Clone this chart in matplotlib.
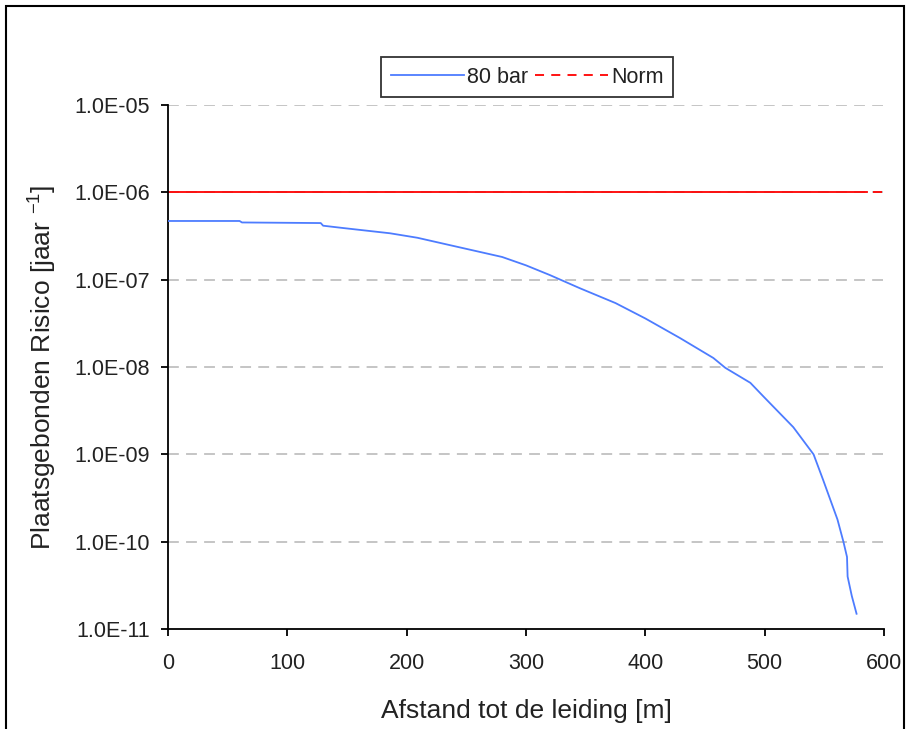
import numpy as np
import matplotlib.pyplot as plt
from matplotlib.lines import Line2D
from matplotlib.patches import Rectangle
from matplotlib.ticker import FixedLocator, FuncFormatter

plt.rcParams['font.family'] = ['Liberation Sans', 'DejaVu Sans']
plt.rcParams['mathtext.fontset'] = 'custom'
plt.rcParams['mathtext.rm'] = 'Liberation Sans'

# 80 bar curve
afstand = [0, 60, 62, 128, 130, 147, 186, 209, 236, 264, 280, 300, 320, 345,
           375, 400, 429, 457, 467, 488, 499, 524, 541, 549, 561, 566, 569,
           569.5, 573, 577]
risico = [4.70e-7, 4.70e-7, 4.52e-7, 4.45e-7, 4.15e-7, 3.90e-7, 3.40e-7, 3.02e-7,
          2.49e-7, 2.04e-7, 1.82e-7, 1.46e-7, 1.13e-7, 8.0e-8, 5.4e-8, 3.6e-8,
          2.15e-8, 1.27e-8, 9.8e-9, 6.6e-9, 4.6e-9, 2.05e-9, 1.0e-9, 5.1e-10,
          1.8e-10, 1.0e-10, 6.7e-11, 4.0e-11, 2.4e-11, 1.5e-11]

# Norm line
norm_waarde = 1e-6
norm_x = [0, 586]
norm_x_tail = [591, 600]

y_ticks = [1e-11, 1e-10, 1e-9, 1e-8, 1e-7, 1e-6, 1e-5]
x_ticks = [0, 100, 200, 300, 400, 500, 600]

blauw = '#4d7cff'
rood = '#ff0000'

fig = plt.figure(figsize=(9.09, 7.29), dpi=100)
ax = fig.add_axes([0.1848, 0.137, 0.7877, 0.719])

ax.set_yscale('log')
for yt in y_ticks[1:]:
    ax.axhline(yt, color='#c0c0c0', lw=1.3, ls=(0, (6, 4)), zorder=1)

ax.plot(norm_x, [norm_waarde, norm_waarde], color=rood, lw=1.3, zorder=2)
ax.plot(norm_x_tail, [norm_waarde, norm_waarde], color=rood, lw=1.3,
        ls=(0, (5, 4)), zorder=2)
ax.plot(afstand, risico, color=blauw, lw=1.3, zorder=3)

ax.set_xlim(0, 600)
ax.set_ylim(1e-11, 1e-5)
ax.xaxis.set_major_locator(FixedLocator(x_ticks))
ax.yaxis.set_major_locator(FixedLocator(y_ticks))
ax.yaxis.set_minor_locator(FixedLocator([]))
ax.yaxis.set_major_formatter(FuncFormatter(lambda v, p: '{:.1E}'.format(v)))

for s in ['top', 'right']:
    ax.spines[s].set_visible(False)
for s in ['left', 'bottom']:
    ax.spines[s].set_linewidth(1.3)

ax.tick_params(axis='y', direction='out', length=5, width=1.3, labelsize=15.5,
               pad=8, labelcolor='#222222')
ax.tick_params(axis='x', direction='out', length=5, width=1.3, labelsize=15.5,
               pad=12, labelcolor='#222222')

ax.set_xlabel('Afstand tot de leiding [m]', fontsize=19, labelpad=18,
              color='#222222')
ax.set_ylabel(r'Plaatsgebonden Risico [jaar $^{\mathregular{-1}}$]', fontsize=19,
              labelpad=12, color='#222222')

handles = [Line2D([], [], color=blauw, lw=1.3),
           Line2D([], [], color=rood, lw=1.3, ls=(0, (5, 4)))]
leg = fig.legend(handles, ['80 bar', 'Norm'], loc='center', ncol=2,
                 bbox_to_anchor=(0.58, 0.894), fontsize=15.5, frameon=True,
                 fancybox=False, edgecolor='black', handlelength=3.4,
                 handletextpad=0.15, columnspacing=0.3, borderpad=0.45)
leg.get_frame().set_linewidth(1.3)
for t in leg.get_texts():
    t.set_color('#222222')

fig.patches.append(Rectangle((0.007, -0.01), 0.988, 1.002, transform=fig.transFigure,
                             fill=False, edgecolor='black', lw=1.5))

fig.savefig('out.png', dpi=100)
